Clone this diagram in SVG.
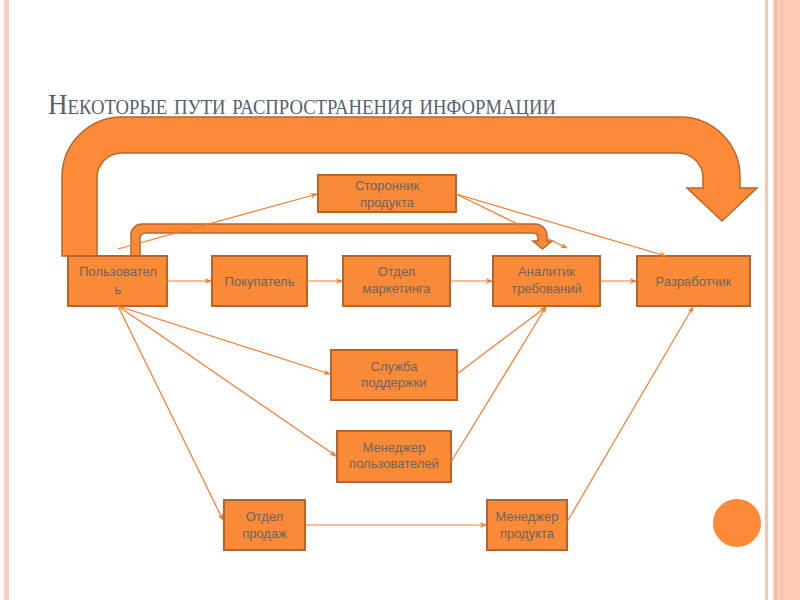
<svg xmlns="http://www.w3.org/2000/svg" width="800" height="600" viewBox="0 0 800 600">
<style>
.box{fill:#F98A38;stroke:#B8622C;stroke-width:2}
.lbl{font-family:"Liberation Sans",Arial,sans-serif;font-size:13px;fill:#6E6560;text-anchor:middle}
.big{fill:#FC8A38;stroke:#B8662E;stroke-width:1.5}
.c{stroke:#F47B2E;stroke-width:1.2;fill:none;marker-end:url(#ah)}
</style>
<defs>
<marker id="ah" viewBox="0 0 10 10" refX="9" refY="5" markerWidth="7" markerHeight="7" markerUnits="userSpaceOnUse" orient="auto">
<path d="M0,1 L10,5 L0,9 L3,5 Z" fill="#F47B2E"/>
</marker>
</defs>
<rect width="800" height="600" fill="#FFFFFF"/>
<g id="frame">
<rect x="4" y="0" width="5" height="600" fill="#FCCDBB"/>
<rect x="765" y="0" width="3" height="600" fill="#FBC5B0"/>
<rect x="773" y="0" width="27" height="600" fill="#FDCBB8"/>
<rect x="775" y="0" width="2" height="600" fill="#F8B89F"/>
<rect x="781" y="0" width="1.5" height="600" fill="#F9BEA6"/>
</g>
<text id="title" x="48" y="114" font-family="'Liberation Serif','Times New Roman',serif" font-size="29" font-variant="small-caps" fill="#566070" textLength="508" lengthAdjust="spacingAndGlyphs">Некоторые пути распространения информации</text>
<g id="bigArrow">
<path class="big" d="M62 256 L62 177 A60 60 0 0 1 122 117 L680 117 A60 60 0 0 1 740 177 L740 188 L757 188 L722 221 L687 188 L703 188 L703 178 A25 25 0 0 0 678 153 L122 153 A25 25 0 0 0 97 178 L97 256 Z"/>
</g>
<g id="smallArrow">
<path class="big" d="M131 257 L131 235 A11 11 0 0 1 142 224 L535 224 A12 12 0 0 1 547 236 L547 241 L552 241 L542.5 249 L533 241 L538 241 L538 238 A5 5 0 0 0 533 233 L145 233 A5 5 0 0 0 140 238 L140 257 Z"/>
</g>
<g id="n-user"><rect class="box" x="68" y="256" width="99" height="50"/><text class="lbl" x="118" y="276">Пользовател</text><text class="lbl" x="118" y="294">ь</text></g>
<g id="n-buyer"><rect class="box" x="212" y="256" width="95" height="50"/><text class="lbl" x="259.5" y="286">Покупатель</text></g>
<g id="n-marketing"><rect class="box" x="343" y="256" width="107" height="50"/><text class="lbl" x="396.5" y="276">Отдел</text><text class="lbl" x="396.5" y="293">маркетинга</text></g>
<g id="n-analyst"><rect class="box" x="493" y="256" width="107" height="50"/><text class="lbl" x="546.5" y="276">Аналитик</text><text class="lbl" x="546.5" y="293">требований</text></g>
<g id="n-dev"><rect class="box" x="637" y="256" width="113" height="50"/><text class="lbl" x="693.5" y="286">Разработчик</text></g>
<g id="n-supporter"><rect class="box" x="318" y="175" width="138" height="37"/><text class="lbl" x="387" y="190">Сторонник</text><text class="lbl" x="387" y="207">продукта</text></g>
<g id="n-support"><rect class="box" x="331" y="350" width="126" height="50"/><text class="lbl" x="394" y="371">Служба</text><text class="lbl" x="394" y="387">поддержки</text></g>
<g id="n-usermgr"><rect class="box" x="337" y="431" width="114" height="51"/><text class="lbl" x="394" y="452">Менеджер</text><text class="lbl" x="394" y="468">пользователей</text></g>
<g id="n-sales"><rect class="box" x="224" y="500" width="81" height="50"/><text class="lbl" x="264.5" y="521">Отдел</text><text class="lbl" x="264.5" y="538">продаж</text></g>
<g id="n-prodmgr"><rect class="box" x="487" y="500" width="80" height="50"/><text class="lbl" x="527" y="521">Менеджер</text><text class="lbl" x="527" y="538">продукта</text></g>
<g id="deco"><circle cx="737" cy="523" r="24" fill="#FC8A38"/></g>
<g id="connectors">
<line class="c" x1="167" y1="281" x2="211" y2="281"/>
<line class="c" x1="307" y1="281" x2="342" y2="281"/>
<line class="c" x1="450" y1="281" x2="492" y2="281"/>
<line class="c" x1="600" y1="281" x2="636" y2="281"/>
<line class="c" x1="118" y1="249" x2="317" y2="194"/>
<line class="c" x1="456" y1="194" x2="567" y2="248"/>
<line class="c" x1="456" y1="194" x2="666" y2="256"/>
<line class="c" x1="118" y1="306" x2="330" y2="374"/>
<line class="c" x1="118" y1="306" x2="336" y2="456"/>
<line class="c" x1="118" y1="306" x2="223" y2="520"/>
<line class="c" x1="457" y1="374" x2="546" y2="307"/>
<line class="c" x1="451" y1="462" x2="546" y2="307"/>
<line class="c" x1="305" y1="525" x2="486" y2="525"/>
<line class="c" x1="567" y1="522" x2="693" y2="307"/>
</g>
</svg>
